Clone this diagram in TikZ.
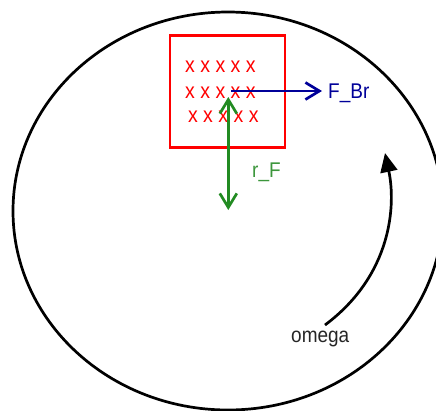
\documentclass[tikz,border=0pt]{standalone}
\usepackage{fontspec}
\setmainfont{Liberation Sans}
\usetikzlibrary{arrows.meta}
\definecolor{boxred}{RGB}{255,0,0}
\definecolor{fbrblue}{RGB}{0,0,153}
\definecolor{rfgreen}{RGB}{34,139,34}
\definecolor{labgreen}{RGB}{60,150,60}
\newcommand{\talltext}[1]{\scalebox{1}[1.12]{#1}}
\tikzset{
  wheel/.style={draw=black, line width=2.7pt},
  fieldbox/.style={draw=boxred, line width=2.7pt},
  xrow/.style={text=boxred, font=\fontsize{19.5}{19.5}\selectfont, inner sep=0pt},
  lab/.style={font=\fontsize{19}{19}\selectfont, inner sep=0pt, anchor=base west},
  barb/.style={-{Straight Barb[length=14pt,width=17pt,line width=2.7pt]}},
  dbarb/.style={{Straight Barb[length=14pt,width=17pt,line width=2.7pt]}-{Straight Barb[length=14pt,width=17pt,line width=2.7pt]}},
}
\begin{document}
\begin{tikzpicture}[x=1pt,y=-1pt]
\useasboundingbox (0,0) rectangle (436,410);
\clip (0,0) rectangle (436,410);
% wheel
\draw[wheel] (228,211) ellipse [x radius=215, y radius=199];
% field region
\node[fieldbox, minimum width=115pt, minimum height=112pt, inner sep=0pt] (box) at (227.5,91.5) {};
\node[xrow] (r1) at (220.4,67) {\talltext{x x x x x}};
\node[xrow] (r2) at (220.4,92.5) {\talltext{x x x x x}};
\node[xrow] (r3) at (223.3,117) {\talltext{x x x x x}};
% braking force
\node[lab, text=fbrblue] (fbr) at (328,98.3) {\talltext{F\_Br}};
\coordinate (fstart) at (231,91);
\coordinate (fend) at (322,91);
\draw[fbrblue, line width=2.7pt, barb] (fstart) -- (fend);
% radius
\coordinate (rtop) at (228.3,97);
\coordinate (rbot) at (228.3,210);
\draw[rfgreen, line width=2.7pt, dbarb] (rtop) -- (rbot);
\node[lab, text=labgreen] (rf) at (252,177.7) {\talltext{r\_F}};
% rotation
\coordinate (ostart) at (325,325);
\coordinate (oend) at (385,153);
\draw[black, line width=2.7pt, -{Triangle[length=19pt,width=17pt]}] (ostart) .. controls (392,275) and (396,205) .. (oend);
\node[lab, text=black!85] (om) at (291,342) {\talltext{omega}};
\end{tikzpicture}
\end{document}
